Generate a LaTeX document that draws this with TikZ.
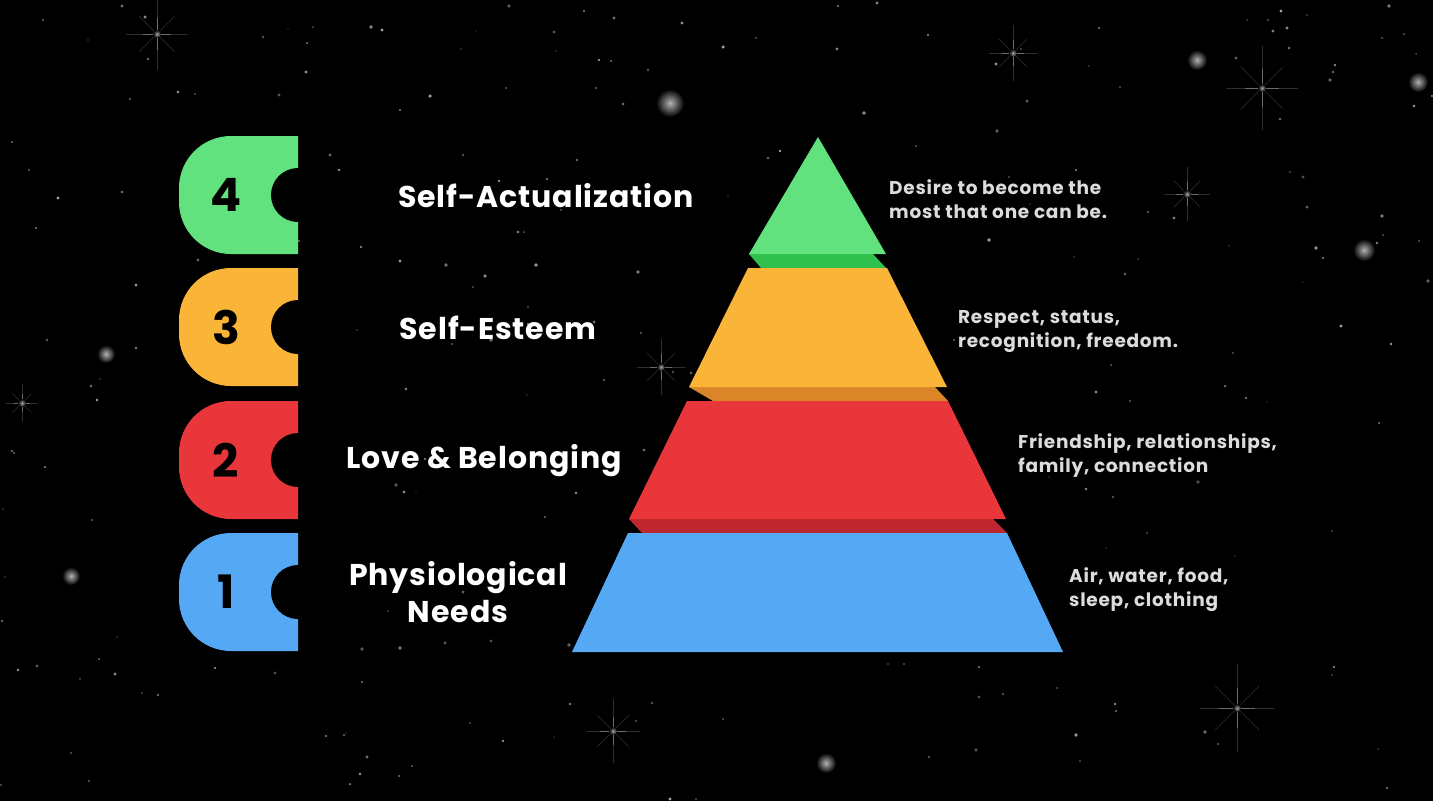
\documentclass[tikz,border=0pt]{standalone}
\usepackage{fontspec}
\setmainfont{Poppins}
\usetikzlibrary{positioning}
\definecolor{PyrGreen}{HTML}{62E27F}
\definecolor{PyrGreenDk}{HTML}{2FC04E}
\definecolor{PyrOrange}{HTML}{FAB438}
\definecolor{PyrOrangeDk}{HTML}{DA8628}
\definecolor{PyrRed}{HTML}{E8363B}
\definecolor{PyrRedDk}{HTML}{BE2630}
\definecolor{PyrBlue}{HTML}{54A8F4}
\definecolor{DescGray}{HTML}{DCDCDC}

\newcommand{\sparkle}[3]{%
  \begin{scope}[shift={(#1,#2)}]
    \draw[white, opacity=.18, line width=.6pt] (0,-#3) -- (0,#3) (-0.85*#3,0) -- (0.85*#3,0);
    \draw[white, opacity=.3, line width=.8pt] (0,-0.45*#3) -- (0,0.45*#3) (-0.4*#3,0) -- (0.4*#3,0);
    \draw[white, opacity=.18, line width=.6pt] (-0.5*#3,-0.5*#3) -- (0.5*#3,0.5*#3) (-0.5*#3,0.5*#3) -- (0.5*#3,-0.5*#3);
    \shade[inner color=white!65!black, outer color=black] (0,0) circle (4pt);
  \end{scope}}
\newcommand{\glow}[3]{\shade[inner color=white!70!black, outer color=black] (#1,#2) circle (#3pt);}

\begin{document}
\begin{tikzpicture}[x=1pt, y=-1pt,
                    numtxt/.style={text=black, font=\fontsize{46}{46}\selectfont\bfseries, inner sep=0},
                    lbltxt/.style={text=white, font=\fontsize{30}{37}\selectfont\bfseries\addfontfeature{LetterSpace=3},
                                   align=center, inner sep=0},
                    desctxt/.style={text=DescGray, font=\fontsize{18.5}{24}\selectfont\bfseries\addfontfeature{LetterSpace=4},
                                    align=left, anchor=west, inner sep=0}]
\fill[black] (0,0) rectangle (1433,801);
\useasboundingbox (0,0) rectangle (1433,801);

% star field
\pgfmathsetseed{4242}
\foreach \i in {1,...,280}{
  \pgfmathsetmacro{\sx}{random(0,1433)}
  \pgfmathsetmacro{\sy}{random(0,801)}
  \pgfmathsetmacro{\sr}{0.6+1.3*rnd}
  \pgfmathsetmacro{\sg}{30+35*rnd}
  \fill[white!\sg!black] (\sx,\sy) circle (\sr pt);
}
\glow{670}{103}{14}
\glow{1197}{60}{10}
\glow{1418}{82}{10}
\glow{1364}{250}{11}
\glow{106}{354}{9}
\glow{71}{576}{9}
\glow{826}{763}{10}
\sparkle{157}{34}{36}
\sparkle{1013}{53}{28}
\sparkle{1262}{88}{42}
\sparkle{1187}{194}{27}
\sparkle{22}{403}{19}
\sparkle{661}{367}{28}
\sparkle{613}{731}{32}
\sparkle{1237}{708}{44}

% pyramid
\fill[PyrGreenDk] (749,254) -- (873,254) -- (886,268) -- (761,268) -- cycle;
\fill[PyrGreen] (818,137) -- (886,254) -- (749,254) -- cycle;
\fill[PyrOrangeDk] (689,387) -- (935,387) -- (948,401) -- (713,401) -- cycle;
\fill[PyrOrange] (748,268) -- (887,268) -- (947,387) -- (689,387) -- cycle;
\fill[PyrRedDk] (629,519) -- (993,519) -- (1007,533) -- (642,533) -- cycle;
\fill[PyrRed] (687,401) -- (948,401) -- (1006,519) -- (629,519) -- cycle;
\fill[PyrBlue] (628,533) -- (1007,533) -- (1063,652) -- (572,652) -- cycle;

% tabs
\foreach \n/\t/\c in {4/136/PyrGreen,3/268/PyrOrange,2/401/PyrRed,1/533/PyrBlue}{
  \fill[\c] (298,\t) [rounded corners=52pt] -- (179,\t) -- (179,\t+118) [sharp corners] -- (298,\t+118) -- cycle;
  \fill[black] (298,\t+59) circle (27pt);
  \node[numtxt] (num\n) at (226,\t+59) {\n};
}

\node[lbltxt] (selfact) at (546,196) {Self-Actualization};
\node[lbltxt] (esteem) at (498,328) {Self-Esteem};
\node[lbltxt] (love) at (484,461) {Love \& Belonging};
\node[lbltxt] (physio) at (458,592) {Physiological\\Needs};

\node[desctxt] (selfactdesc) at (889,199) {Desire to become the\\most that one can be.};
\node[desctxt] (esteemdesc) at (958,332) {Respect, status,\\recognition, freedom.};
\node[desctxt] (lovedesc) at (1018,456) {Friendship, relationships,\\family, connection};
\node[desctxt] (physiodesc) at (1069,590) {Air, water, food,\\sleep, clothing};
\end{tikzpicture}
\end{document}
